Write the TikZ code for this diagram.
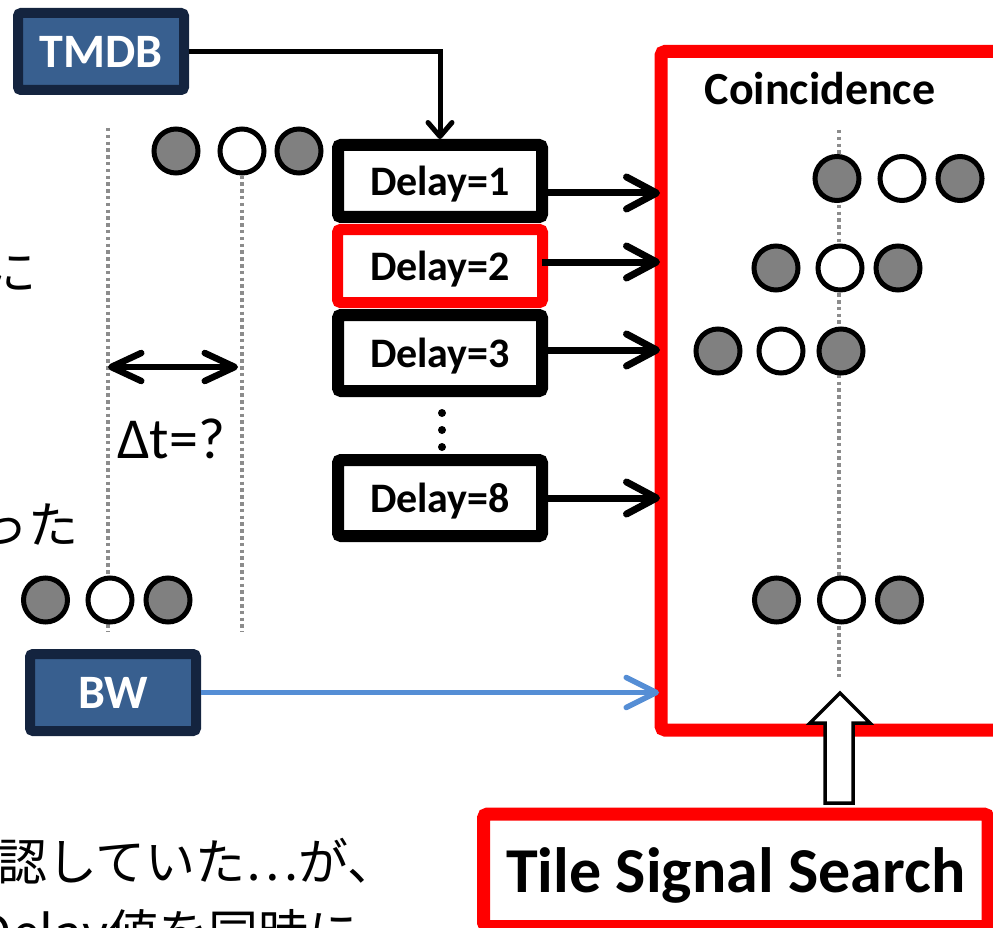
\documentclass[tikz,border=0pt]{standalone}
\usepackage{fontspec}
\setmainfont{Carlito}
\newfontfamily\jpfont{Noto Sans CJK JP}
\usetikzlibrary{arrows.meta}
\definecolor{boxfill}{HTML}{385F8F}
\definecolor{boxedge}{HTML}{14243F}
\definecolor{sigred}{HTML}{FF0000}
\definecolor{dotgray}{HTML}{8C8C8C}
\definecolor{ballgray}{HTML}{808080}
\definecolor{bwblue}{HTML}{558ED5}
\begin{document}
\begin{tikzpicture}[x=1pt,y=-1pt,
  srcbox/.style={draw=boxedge, fill=boxfill, line width=10pt, rounded corners=3pt,
    text=white, font=\bfseries\fontsize{48}{48}\selectfont, text depth=0pt,
    minimum width=166pt, minimum height=77pt, inner sep=0pt},
  delaybox/.style={draw=black, fill=white, line width=12pt, rounded corners=3pt,
    font=\bfseries\fontsize{42}{42}\selectfont, text depth=0pt,
    minimum width=204pt, inner sep=0pt},
  frame/.style={draw=sigred, fill=white, line width=13pt, rounded corners=4pt,
    inner sep=0pt, outer sep=0pt},
  timeline/.style={draw=dotgray, line width=3.5pt, dash pattern=on 3.5pt off 3.3pt},
  hit/.style={circle, draw=black, fill=ballgray, line width=5pt, minimum size=44pt, inner sep=0pt},
  miss/.style={circle, draw=black, fill=white, line width=5pt, minimum size=44pt, inner sep=0pt},
  vdot/.style={circle, fill=black, minimum size=8pt, inner sep=0pt},
  feed/.style={line width=7pt, -{Straight Barb[length=30pt,width=32pt,round]}},
  gaparrow/.style={line width=6.5pt, {Straight Barb[length=30pt,width=28pt,round]}-{Straight Barb[length=30pt,width=28pt,round]}},
  tmdbarrow/.style={line width=5pt, -{Straight Barb[length=14pt,width=24pt,round]}},
  bwarrow/.style={draw=bwblue, line width=5.5pt, -{Straight Barb[length=30pt,width=30pt,round]}},
  blockarrow/.style={draw=black, fill=white, line width=3.5pt, line join=miter},
  jptext/.style={font=\jpfont\fontsize{50}{50}\selectfont, inner sep=0pt, anchor=base west}
]
\useasboundingbox (0,0) rectangle (993,928);
\clip (0,0) rectangle (993,928);

% coincidence window
\node[frame, minimum width=349pt, minimum height=678.5pt] (coin) at (835.5,390.75) {};
\node[anchor=base, font=\bfseries\fontsize{46}{46}\selectfont] (cointitle) at (820,105) {Coincidence};

% time reference lines
\draw[timeline] (108,128) -- (108,632);
\draw[timeline] (242,128) -- (242,632);
\draw[timeline] (839,130) -- (839,677);

% TMDB stream
\node[hit]  (s1) at (176,151) {};
\node[miss] (s2) at (242,151) {};
\node[hit]  (s3) at (299,151) {};
% BW stream
\node[hit]  (b1) at (45.5,600) {};
\node[miss] (b2) at (110,600) {};
\node[hit]  (b3) at (168,600) {};
% delayed copies inside the coincidence window
\node[hit]  (r1a) at (837,178.5) {};
\node[miss] (r1b) at (902,178.5) {};
\node[hit]  (r1c) at (960,178.5) {};
\node[hit]  (r2a) at (776,268) {};
\node[miss] (r2b) at (840,268) {};
\node[hit]  (r2c) at (898,268) {};
\node[hit]  (r3a) at (718,351) {};
\node[miss] (r3b) at (781,351) {};
\node[hit]  (r3c) at (841,351) {};
\node[hit]  (r4a) at (776.5,600) {};
\node[miss] (r4b) at (841.5,600) {};
\node[hit]  (r4c) at (899.5,600) {};

% sources
\node[srcbox] (tmdb) at (101,51.5) {TMDB};
\node[srcbox] (bw) at (113,692.5) {BW};

% delay stages
\node[delaybox, minimum height=72pt] (d1) at (440,181) {Delay=1};
\node[delaybox, draw=sigred, line width=11pt, minimum width=205pt, minimum height=73pt] (d2) at (440,266) {Delay=2};
\node[delaybox, minimum height=76pt] (d3) at (440,353) {Delay=3};
\node[delaybox, minimum height=76pt] (d8) at (440,498) {Delay=8};
\node[vdot] (v1) at (442,413) {};
\node[vdot] (v2) at (442,430) {};
\node[vdot] (v3) at (442,447) {};

% connections
\draw[tmdbarrow] (tmdb.east) -| (d1.north);
\draw[feed] ([yshift=-12pt]d1.east) -- ([yshift=-12pt,xshift=-1pt]d1.east -| coin.west);
\draw[feed] ([yshift=4pt,xshift=-6pt]d2.east) -- ([yshift=4pt,xshift=-1pt]d2.east -| coin.west);
\draw[feed] ([yshift=3pt]d3.east) -- ([yshift=3pt,xshift=-1pt]d3.east -| coin.west);
\draw[feed] (d8.east) -- ([xshift=-1pt]d8.east -| coin.west);
\draw[bwarrow] (bw.east) -- ([xshift=-2pt]bw.east -| coin.west);

% time difference
\coordinate (gapL) at (108,367);
\coordinate (gapR) at (238,367);
\draw[gaparrow] (gapL) -- (gapR);
\node[anchor=base, font=\fontsize{58}{58}\selectfont, inner sep=0pt] (dt) at (171,458) {Δt=?};

% search block
\node[frame, minimum width=504.5pt, minimum height=112.5pt,
  font=\bfseries\fontsize{64}{64}\selectfont, text depth=0pt] (tss) at (735.75,870.25) {Tile Signal Search};
\draw[blockarrow] (825,803) -- (853,803) -- (853,723) -- (870,723) -- (840,693)
  -- (810,723) -- (825,723) -- cycle;

% side notes
\node[jptext] (jp1) at (-14,290) {に};
\node[jptext] (jp2) at (-22,543) {った};
\node[jptext] (jp3) at (-3,880) {認していた⋯が、};
\node[jptext] (jp4) at (108,951) {\llap{Delay}値を同時に};
\end{tikzpicture}
\end{document}
